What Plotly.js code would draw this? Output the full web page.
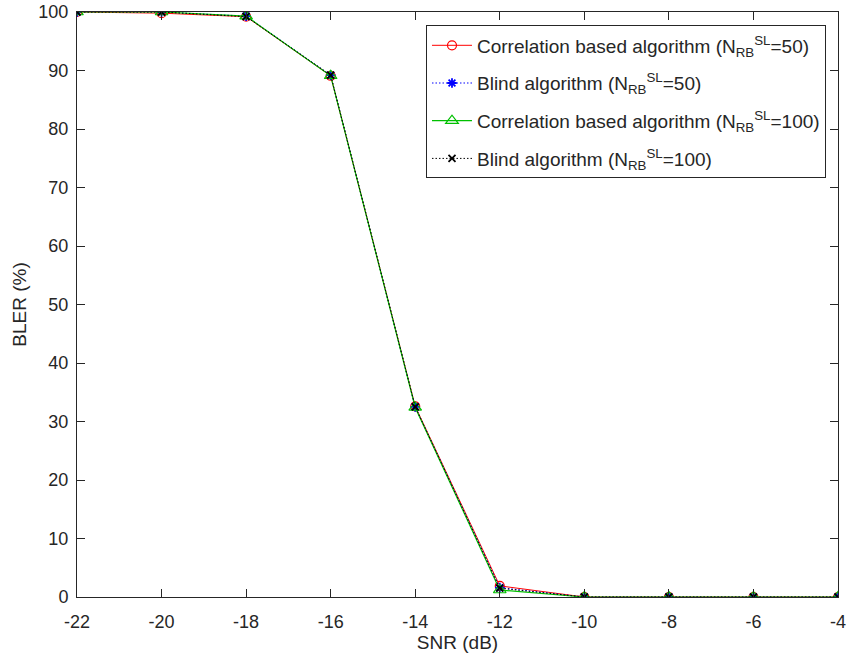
<!DOCTYPE html>
<html><head><meta charset="utf-8">
<script src="https://cdn.plot.ly/plotly-3.0.1.min.js"></script>
<style>body{margin:0;background:#fff}#c{width:847px;height:661px}</style>
</head><body><div id="c"></div>
<script>
const snr = [-22,-20,-18,-16,-14,-12,-10,-8,-6,-4];
const corr50 = [100,99.8,99.2,89.1,32.6,1.9,0,0,0,0];
const blind50 = [100,100,99.3,89.2,32.5,1.6,0,0,0,0];
const corr100 = [100,100,99.3,89.1,32.4,1.2,0,0,0,0];
const blind100 = [100,100,99.2,89.2,32.5,1.5,0,0,0,0];
const xTickVals = [-22,-20,-18,-16,-14,-12,-10,-8,-6,-4];
const xTickText = ['-22','-20','-18','-16','-14','-12','-10','-8','-6','-4'];
const names = [
 'Correlation based algorithm (N<sub>RB</sub><sup>SL</sup>=50)',
 'Blind algorithm (N<sub>RB</sub><sup>SL</sup>=50)',
 'Correlation based algorithm (N<sub>RB</sub><sup>SL</sup>=100)',
 'Blind algorithm (N<sub>RB</sub><sup>SL</sup>=100)'
];
const font = "'Liberation Sans', Arial, sans-serif";
const txt = '#262626';
const traces = [
 {x:snr,y:corr50,name:names[0],legendgroup:'a',mode:'lines+markers',line:{color:'#ff0000',width:1},marker:{symbol:'circle-open',size:9,color:'#ff0000',line:{width:1.2}}},
 {x:snr,y:blind50,name:names[1],legendgroup:'b',mode:'lines+markers',line:{color:'#0000ff',width:1,dash:'1.5px,2px'},marker:{symbol:'asterisk-open',size:8,color:'#0000ff',line:{width:1.8}}},
 {x:snr,y:corr100,name:names[2],legendgroup:'c',mode:'lines+markers',line:{color:'#00c000',width:1.2},marker:{symbol:'triangle-up-open',size:11,color:'#00c000',line:{width:1.2}}},
 {x:snr,y:blind100,name:names[3],legendgroup:'d',mode:'lines+markers',line:{color:'#000000',width:1,dash:'1.5px,2px'},marker:{symbol:'x-thin-open',size:7,color:'#000000',line:{width:1.8}}}
];
const ax = {showgrid:false,zeroline:false,showline:true,linecolor:txt,linewidth:1,mirror:'ticks',ticks:'inside',ticklen:8,tickcolor:txt,tickfont:{family:font,size:18,color:txt},ticklabeloverflow:'allow',automargin:false};
const layout = {
 width:847,height:661,margin:{l:77,r:9,t:12,b:64},
 paper_bgcolor:'#fff',plot_bgcolor:'#fff',
 xaxis:Object.assign({},ax,{range:[-22,-4],tickmode:'array',tickvals:xTickVals,ticktext:xTickText,ticklabelstandoff:8,title:{text:'SNR (dB)',font:{family:font,size:19,color:txt},standoff:4}}),
 yaxis:Object.assign({},ax,{range:[0,100],dtick:10,ticklabelstandoff:4,title:{text:'BLER (%)',font:{family:font,size:19,color:txt},standoff:6}}),
 legend:{x:0.4586,y:0.977,xanchor:'left',yanchor:'top',bgcolor:'#fff',bordercolor:txt,borderwidth:1,font:{family:font,size:19,color:txt},tracegroupgap:10,itemwidth:40,traceorder:'grouped'},
 showlegend:true
};
Plotly.newPlot('c',traces,layout,{displayModeBar:false});
</script></body></html>
